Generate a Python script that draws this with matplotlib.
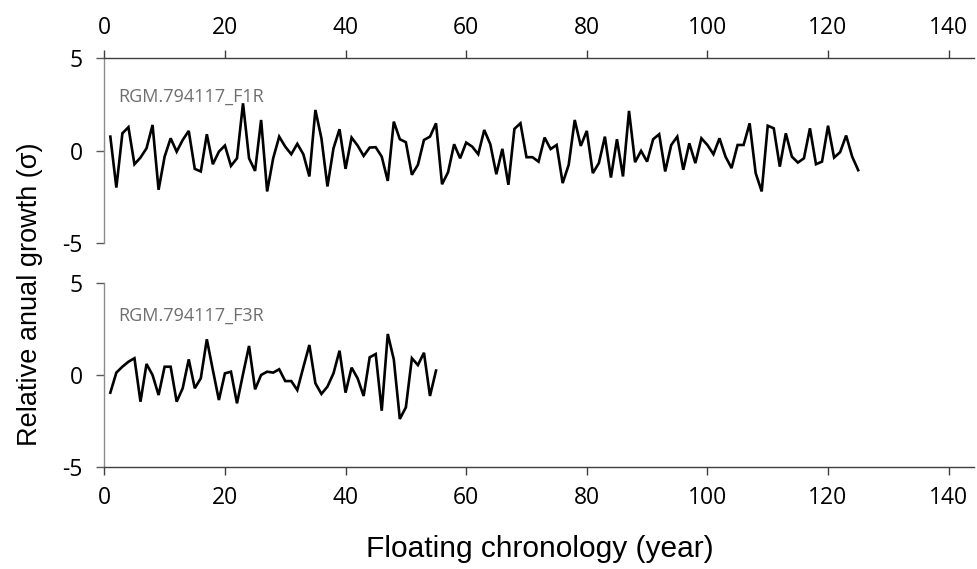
import matplotlib
matplotlib.use("Agg")
import matplotlib.pyplot as plt

plt.rcParams['font.family'] = ['Open Sans', 'DejaVu Sans']
plt.rcParams['axes.unicode_minus'] = False

# Standardised ring-width indices per year of the floating chronology
f1r_years = list(range(1, 126))
f1r_values = [
    0.77, -1.98, 0.95, 1.28, -0.72, -0.36, 0.14, 1.40, -2.10, -0.31,
    0.68, -0.04, 0.59, 1.08, -0.97, -1.11, 0.90, -0.72, -0.04, 0.29,
    -0.81, -0.40, 2.57, -0.40, -1.08, 1.67, -2.19, -0.40, 0.77, 0.23,
    -0.18, 0.38, -0.18, -1.38, 2.21, 0.68, -1.92, 0.14, 1.17, -0.97,
    0.72, 0.29, -0.27, 0.18, 0.20, -0.31, -1.62, 1.58, 0.63, 0.47,
    -1.29, -0.75, 0.59, 0.77, 1.49, -1.80, -1.15, 0.36, -0.40, 0.45,
    0.23, -0.18, 1.13, 0.36, -1.26, 0.11, -1.83, 1.19, 1.49, -0.34,
    -0.34, -0.58, 0.72, 0.10, 0.32, -1.74, -0.75, 1.67, 0.27, 1.08,
    -1.20, -0.66, 0.77, -1.44, 0.63, -1.38, 2.16, -0.61, 0.00, -0.58,
    0.63, 0.90, -1.11, 0.32, 0.77, -1.02, 0.41, -0.66, 0.68, 0.32,
    -0.18, 0.68, -0.31, -0.93, 0.32, 0.32, 1.49, -1.20, -2.19, 1.36,
    1.22, -0.85, 0.95, -0.31, -0.63, -0.40, 1.22, -0.72, -0.58, 1.36,
    -0.36, -0.07, 0.83, -0.31, -1.04,
]

f3r_years = list(range(1, 56))
f3r_values = [
    -0.96, 0.13, 0.45, 0.72, 0.91, -1.45, 0.60, 0.00, -1.09, 0.45,
    0.45, -1.45, -0.72, 0.85, -0.72, -0.18, 1.94, 0.27, -1.36, 0.09,
    0.18, -1.54, 0.05, 1.58, -0.78, 0.00, 0.18, 0.13, 0.31, -0.33,
    -0.33, -0.82, 0.42, 1.63, -0.45, -1.03, -0.63, 0.09, 1.32, -0.96,
    0.40, -0.18, -1.14, 0.96, 1.14, -1.94, 2.23, 0.85, -2.39, -1.76,
    0.91, 0.54, 1.21, -1.14, 0.24,
]

x_ticks = [0, 20, 40, 60, 80, 100, 120, 140]
y_ticks = [-5, 0, 5]

W, H = 977, 569
fig = plt.figure(figsize=(W / 100, H / 100), dpi=100)

left = 104.3 / W
right = 974 / W
ax_top = fig.add_axes([left, 1 - 243.5 / H, right - left, (243.5 - 58.3) / H])
ax_bot = fig.add_axes([left, 1 - 467 / H, right - left, (467 - 283) / H])

left_col = '#8c8c8c'
axis_col = '#3f3f3f'
tick_fs = 16.5

for ax, xs, ys, name, label_y in [
    (ax_top, f1r_years, f1r_values, 'RGM.794117_F1R', 2.9),
    (ax_bot, f3r_years, f3r_values, 'RGM.794117_F3R', 3.2),
]:
    ax.plot(xs, ys, color='black', lw=1.9, solid_joinstyle='miter')
    ax.set_xlim(0, 144.2)
    ax.set_ylim(-5, 5)
    ax.set_xticks(x_ticks)
    ax.set_yticks(y_ticks)
    ax.spines['right'].set_visible(False)
    ax.spines['left'].set_color(left_col)
    ax.spines['left'].set_linewidth(1.0)
    ax.tick_params(axis='y', colors='#595959', labelcolor='black',
                   labelsize=tick_fs, length=5.5, width=1.0, pad=10)
    ax.tick_params(axis='x', colors=axis_col, labelcolor='black',
                   labelsize=tick_fs, length=5.5, width=1.0, pad=8)
    ax.text(2.3, label_y, name, color='#6e6e6e', fontsize=13,
            va='center', ha='left')
    ax.set_facecolor('none')

# Upper panel: year axis along the top edge
ax_top.spines['bottom'].set_visible(False)
ax_top.spines['top'].set_color(axis_col)
ax_top.spines['top'].set_linewidth(1.0)
ax_top.xaxis.tick_top()
ax_top.xaxis.set_label_position('top')

# Lower panel: year axis along the bottom edge
ax_bot.spines['top'].set_visible(False)
ax_bot.spines['bottom'].set_color(axis_col)
ax_bot.spines['bottom'].set_linewidth(1.0)

label_font = ['Liberation Sans', 'DejaVu Sans']
fig.text(540 / W, 1 - 557 / H, 'Floating chronology (year)', ha='center',
         va='baseline', fontsize=21.5, color='black', family=label_font)
fig.text(30 / W, 1 - 294 / H, 'Relative anual growth (σ)', ha='center',
         va='center', rotation=90, fontsize=19.5, color='black',
         family=label_font)

fig.savefig('out.png', dpi=100, facecolor='white')
